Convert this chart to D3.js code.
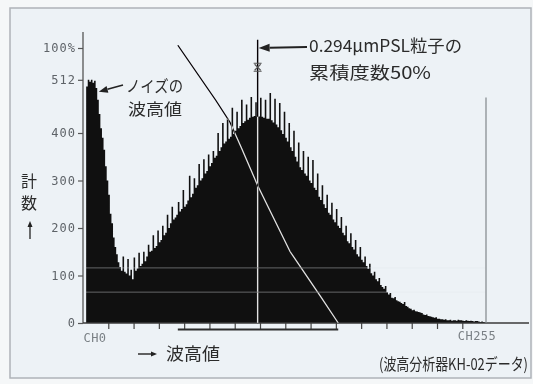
<!DOCTYPE html>
<html>
<head>
<meta charset="utf-8">
<script src="https://cdn.jsdelivr.net/npm/d3@7"></script>
<style>
  html, body { margin: 0; padding: 0; background: #f5f7f8; }
  svg { display: block; }
</style>
</head>
<body>
<div id="chart"></div>
<script>
// counts per channel, CH0 .. CH255
const counts = [
  0, 0, 498, 512, 508, 512, 506, 510, 495, 470, 440, 410, 390, 365, 330, 300,
  270, 230, 210, 180, 160, 145, 128, 118, 110, 140, 108, 104, 135, 100, 112, 92,
  138, 110, 115, 148, 120, 125, 150, 130, 140, 165, 150, 152, 185, 158, 162, 195,
  170, 175, 205, 185, 190, 228, 200, 210, 245, 218, 222, 228, 255, 235, 240, 280,
  245, 250, 258, 310, 265, 272, 305, 285, 290, 335, 300, 305, 345, 315, 320, 355,
  330, 337, 362, 348, 352, 400, 362, 370, 421, 378, 382, 430, 388, 392, 453, 398,
  405, 445, 410, 415, 470, 421, 425, 460, 428, 432, 476, 434, 436, 465, 434, 435,
  474, 434, 432, 470, 430, 430, 484, 427, 422, 472, 418, 412, 463, 406, 398, 445,
  390, 382, 421, 370, 362, 405, 350, 340, 380, 328, 322, 362, 315, 310, 350, 300,
  295, 343, 285, 280, 315, 266, 259, 290, 250, 242, 270, 232, 228, 253, 218, 212,
  240, 205, 200, 223, 190, 185, 205, 172, 168, 189, 160, 155, 175, 145, 140, 160,
  133, 128, 140, 120, 114, 125, 105, 100, 108, 92, 88, 95, 80, 76, 72, 78,
  65, 60, 63, 53, 52, 55, 48, 46, 45, 42, 40, 44, 36, 34, 31, 30,
  27, 28, 25, 24, 23, 22, 21, 18, 17, 18, 15, 14, 13, 12, 11, 12,
  9, 9, 8, 8, 7, 8, 6, 6, 7, 5, 6, 6, 5, 7, 6, 6,
  5, 4, 6, 5, 4, 5, 4, 3, 4, 4, 3, 2, 3, 2, 1, 0
];

// cumulative curve [channel, percent]
const cumulative = [[60, 101], [84, 81], [93, 73], [100, 64], [110.5, 50], [131, 26], [150.5, 9.5], [161.5, 0]];

const countTicks = [0, 100, 200, 300, 400, 512];
const percentTicks = [100];
const chTicks = [16, 32, 48, 64, 80, 96, 112, 128, 144, 160, 176, 192, 208, 224, 240];
const chLabels = [[0, 'CH0'], [255, 'CH255']];
const medianCh = 110.5;
const rangeCh = [60, 161.5];
const faintLevels = [116, 65];

const width = 533;
const height = 384;

const x = d3.scaleLinear().domain([0, 255]).range([83, 486]);
const y = d3.scaleLinear().domain([0, 512]).range([323, 79.8]);
const pct = d3.scaleLinear().domain([0, 100]).range([323, 48]);

const svg = d3.select('#chart').append('svg')
  .attr('width', width)
  .attr('height', height)
  .attr('viewBox', [0, 0, width, height]);

const jp = '"Noto Sans CJK JP", "Noto Sans", sans-serif';
const mono = '"DejaVu Sans Mono", "Liberation Mono", monospace';

// paper + frame
svg.append('rect').attr('width', width).attr('height', height).attr('fill', '#f5f7f8');
svg.append('rect')
  .attr('x', 10).attr('y', 8).attr('width', 521).attr('height', 370)
  .attr('fill', '#edf2f6')
  .attr('stroke', '#aeb3b8')
  .attr('stroke-width', 1.5);

// histogram as one stepped area
const histData = counts.map((c, i) => [i, c]).concat([[256, 0]]);
const area = d3.area()
  .x(d => x(d[0]))
  .y0(y(0))
  .y1(d => y(d[1]))
  .curve(d3.curveStepAfter);

svg.append('path')
  .datum(histData)
  .attr('d', area)
  .attr('fill', '#101010');

// faint scan lines that only show through the black
svg.append('g')
  .selectAll('line')
  .data(faintLevels)
  .join('line')
  .attr('x1', x(0)).attr('x2', x(255))
  .attr('y1', d => y(d)).attr('y2', d => y(d))
  .attr('stroke', '#e4e9ed')
  .attr('stroke-opacity', 0.4)
  .attr('stroke-width', 1);

// y axis (counts) and the 100% mark
const yAxis = g => g.attr('transform', `translate(${x(0)},0)`)
  .call(d3.axisLeft(y).tickValues(countTicks).tickSize(5).tickPadding(2))
  .call(g => g.select('.domain').remove());

const pAxis = g => g.attr('transform', `translate(${x(0)},0)`)
  .call(d3.axisLeft(pct).tickValues(percentTicks).tickSize(5).tickPadding(2).tickFormat(d => d + '%'))
  .call(g => g.select('.domain').remove());

[yAxis, pAxis].forEach(ax => {
  svg.append('g')
    .call(ax)
    .call(g => g.selectAll('line').attr('stroke', '#555').attr('stroke-width', 1.2))
    .call(g => g.selectAll('text')
      .attr('font-family', mono)
      .attr('font-size', 12)
      .attr('letter-spacing', 1)
      .attr('fill', '#5e6368'));
});

svg.append('line')
  .attr('x1', x(0)).attr('x2', x(0))
  .attr('y1', 32).attr('y2', y(0))
  .attr('stroke', '#555')
  .attr('stroke-width', 1.3);

// x axis
svg.append('g')
  .attr('transform', `translate(0,${y(0)})`)
  .call(d3.axisBottom(x).tickValues(chTicks).tickSize(6).tickFormat(''))
  .call(g => g.select('.domain').remove())
  .call(g => g.selectAll('line').attr('stroke', '#444').attr('stroke-width', 1.2));

svg.append('line')
  .attr('x1', x(0)).attr('x2', 529)
  .attr('y1', y(0)).attr('y2', y(0))
  .attr('stroke', '#3a3a3a')
  .attr('stroke-width', 1.5);

svg.append('g')
  .selectAll('text')
  .data(chLabels)
  .join('text')
  .attr('x', d => d[0] === 0 ? x(d[0]) + 12 : x(d[0]) - 9)
  .attr('y', d => d[0] === 0 ? 342 : 339.5)
  .attr('text-anchor', 'middle')
  .attr('font-family', mono)
  .attr('font-size', 12)
  .attr('letter-spacing', 0.5)
  .attr('fill', '#7a8085')
  .text(d => d[1]);

// measured range bar under the axis
svg.append('line')
  .attr('x1', x(rangeCh[0])).attr('x2', x(rangeCh[1]))
  .attr('y1', 329.5).attr('y2', 329.5)
  .attr('stroke', '#2c2c2c')
  .attr('stroke-width', 2);

// CH255 marker line
svg.append('line')
  .attr('x1', x(255)).attr('x2', x(255))
  .attr('y1', y(475)).attr('y2', y(0))
  .attr('stroke', '#80868b')
  .attr('stroke-width', 1.2);

// cumulative curve and median line, inverted like the printer draws them
svg.append('path')
  .datum(cumulative)
  .attr('d', d3.line().x(d => x(d[0])).y(d => pct(d[1])))
  .attr('fill', 'none')
  .attr('stroke', '#f2f2f2')
  .attr('stroke-width', 1.3)
  .style('mix-blend-mode', 'difference');

svg.append('line')
  .attr('x1', x(medianCh)).attr('x2', x(medianCh))
  .attr('y1', pct(103)).attr('y2', y(0))
  .attr('stroke', '#f2f2f2')
  .attr('stroke-width', 1.4)
  .style('mix-blend-mode', 'difference');

// small cursor mark on the median line
const mx = x(medianCh), my = pct(93);
svg.append('path')
  .attr('d', `M${mx - 4},${my - 4}H${mx + 4}M${mx - 4},${my + 4}H${mx + 4}M${mx - 3},${my - 3}L${mx + 3},${my + 3}M${mx + 3},${my - 3}L${mx - 3},${my + 3}`)
  .attr('stroke', '#555')
  .attr('stroke-width', 1.1)
  .attr('fill', 'none');

// arrows
function arrow(x1, y1, x2, y2, len, half, w) {
  const a = Math.atan2(y2 - y1, x2 - x1);
  const bx = x2 - len * Math.cos(a), by = y2 - len * Math.sin(a);
  svg.append('line')
    .attr('x1', x1).attr('y1', y1).attr('x2', bx).attr('y2', by)
    .attr('stroke', '#222').attr('stroke-width', w);
  const px = -Math.sin(a) * half, py = Math.cos(a) * half;
  svg.append('path')
    .attr('d', `M${x2},${y2}L${bx + px},${by + py}L${bx - px},${by - py}Z`)
    .attr('fill', '#222');
}

arrow(123, 85, x(10), y(487), 9, 3.5, 1.6);
arrow(307, 47, x(medianCh) + 1, 48, 11, 4, 2);
arrow(138, 354, 157, 354, 6, 2.5, 1.4);
arrow(30, 239, 30, 221, 6, 2.5, 1.3);

// labels; multi-line ones are one text with tspans
const labels = [
  { x: 126, y: 92, s: 16, lines: [{ t: 'ノイズの', w: 57, dy: 0 }, { t: '波高値', w: 54, dy: 22.5, dx: 2 }] },
  { x: 309, y: 52, s: 17, lines: [{ t: '0.294μmPSL粒子の', w: 153, dy: 0 }, { t: '累積度数50%', w: 122, dy: 26.5 }] },
  { x: 21, y: 187, s: 16, lines: [{ t: '計', w: 16, dy: 0 }, { t: '数', w: 16, dy: 22 }] },
  { x: 166, y: 360, s: 17, lines: [{ t: '波高値', w: 54, dy: 0 }] }
];

svg.append('g')
  .selectAll('text')
  .data(labels)
  .join('text')
  .attr('x', d => d.x)
  .attr('y', d => d.y)
  .attr('font-family', jp)
  .attr('font-size', d => d.s)
  .attr('fill', '#2b2b2b')
  .each(function (d) {
    const t = d3.select(this);
    d.lines.forEach(l => {
      t.append('tspan')
        .attr('x', d.x + (l.dx || 0))
        .attr('dy', l.dy)
        .attr('textLength', l.w)
        .attr('lengthAdjust', 'spacingAndGlyphs')
        .text(l.t);
    });
  });

// source caption, squeezed horizontally like the print
svg.append('text')
  .attr('transform', 'translate(379,370) scale(0.81,1)')
  .attr('font-family', jp)
  .attr('font-size', 16)
  .attr('fill', '#2b2b2b')
  .text('(波高分析器KH-02データ)');
</script>
</body>
</html>
